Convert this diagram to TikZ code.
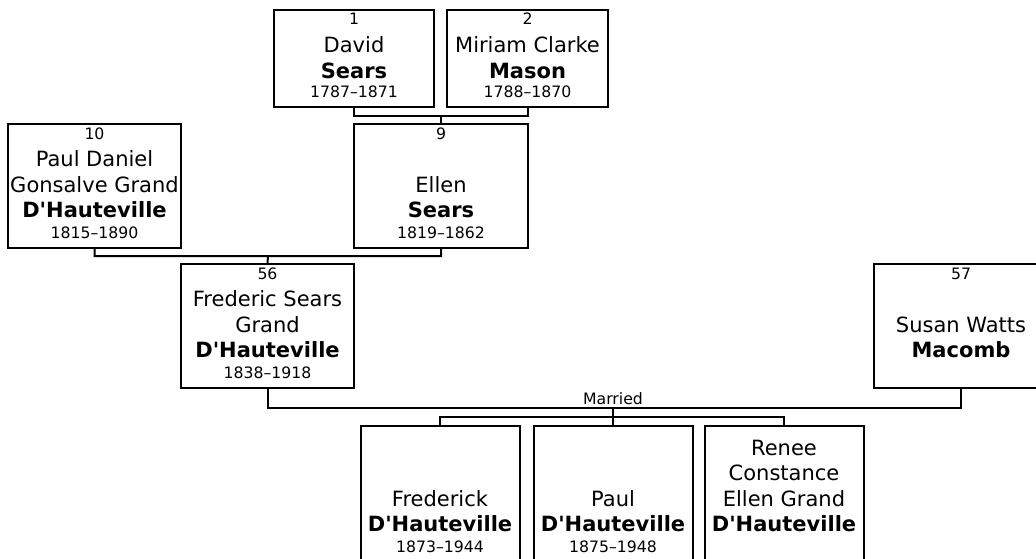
\documentclass[tikz,border=0pt]{standalone}
\usepackage{fontspec}
\setmainfont{DejaVu Sans}
\newcommand{\namefont}{\fontsize{21}{25.5}\selectfont}
\newcommand{\smallfont}{\fontsize{15.7}{18}\selectfont}
\newcommand{\dhaut}{\textbf{D\textquotesingle Hauteville}}
\tikzset{
	person/.style={draw, line width=2pt, inner sep=0pt, minimum width=#1},
	num/.style={anchor=base, font=\smallfont, inner sep=0pt},
	names/.style={anchor=south, align=center, font=\namefont, inner sep=0pt},
	link/.style={line width=2pt}
}
\begin{document}
\begin{tikzpicture}[x=1pt,y=-1pt]
			\useasboundingbox (0,0) rectangle (1036,559);
			\clip (0,0) rectangle (1036,559);
			% grandparents
			\node[person=160pt, minimum height=97pt] (p1) at (354,58.5) {};
			\node[num] (p1n) at ([yshift=-16pt]p1.north) {1};
			\node[names] (p1t) at ([yshift=10pt]p1.south) {David\\\textbf{Sears}\\[-6pt]{\smallfont 1787–1871}};
			\node[person=161pt, minimum height=97pt] (p2) at (527.5,58.5) {};
			\node[num] (p2n) at ([yshift=-16pt]p2.north) {2};
			\node[names] (p2t) at ([yshift=10pt]p2.south) {Miriam Clarke\\\textbf{Mason}\\[-6pt]{\smallfont 1788–1870}};
			% parents of 56
			\node[person=173pt, minimum height=124pt] (p10) at (94.5,186) {};
			\node[num] (p10n) at ([yshift=-16.5pt]p10.north) {10};
			\node[names] (p10t) at ([yshift=10pt]p10.south) {Paul Daniel\\Gonsalve Grand\\\dhaut\\[-4.5pt]{\smallfont 1815–1890}};
			\node[person=174pt, minimum height=124pt] (p9) at (441,186) {};
			\node[num] (p9n) at ([yshift=-16.5pt]p9.north) {9};
			\node[names] (p9t) at ([yshift=10pt]p9.south) {Ellen\\\textbf{Sears}\\[-4.5pt]{\smallfont 1819–1862}};
			% couple
			\node[person=173pt, minimum height=124pt] (p56) at (267.5,326) {};
			\node[num] (p56n) at ([yshift=-16.5pt]p56.north) {56};
			\node[names] (p56t) at ([yshift=10pt]p56.south) {Frederic Sears\\Grand\\\dhaut\\[-4.5pt]{\smallfont 1838–1918}};
			\node[person=174pt, minimum height=124pt] (p57) at (961,326) {};
			\node[num] (p57n) at ([yshift=-16.5pt]p57.north) {57};
			\node[names] (p57t) at ([yshift=10pt]p57.south) {Susan Watts\\\textbf{Macomb}\\[-4.5pt]{\smallfont\phantom{1}}};
			% children
			\node[person=159pt, minimum height=136pt] (k1) at (440,494) {};
			\node[names] (k1t) at ([yshift=10pt]k1.south) {Frederick\\\dhaut\\[-4.5pt]{\smallfont 1873–1944}};
			\node[person=159pt, minimum height=136pt] (k2) at (613,494) {};
			\node[names] (k2t) at ([yshift=10pt]k2.south) {Paul\\\dhaut\\[-4.5pt]{\smallfont 1875–1948}};
			\node[person=159pt, minimum height=136pt] (k3) at (784,494) {};
			\node[names] (k3t) at ([yshift=10pt]k3.south) {Renee\\Constance\\Ellen Grand\\\dhaut\\[-4.5pt]{\smallfont\phantom{1}}};
			% links
			\coordinate (j12) at (441,116);
			\draw[link] (p1.south) |- (j12) (p2.south) |- (j12) (j12) -- (p9.north);
			\coordinate (j910) at (268,256);
			\draw[link] (p10.south) |- (j910) (p9.south) |- (j910) (j910) -- (p56.north);
			\coordinate (jm) at (613,408);
			\draw[link] (p56.south) |- (jm) (p57.south) |- (jm);
			\node[num] (mlab) at ([yshift=4pt]jm) {Married};
			\coordinate (jk) at (613,417);
			\draw[link] (jm) -- (jk) (k1.north) |- (jk) (k3.north) |- (jk) (jk) -- (k2.north);
\end{tikzpicture}
\end{document}
